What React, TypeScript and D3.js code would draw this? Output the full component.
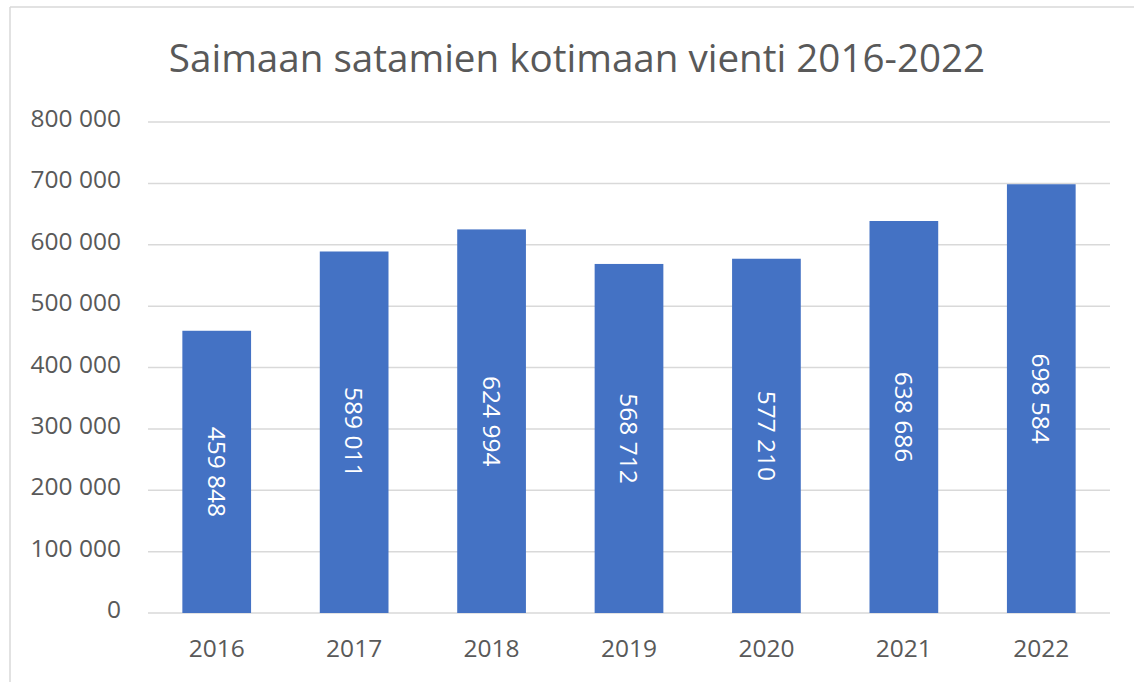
import React from "react";
import * as d3 from "d3";

const years = ["2016", "2017", "2018", "2019", "2020", "2021", "2022"];
const values = [459848, 589011, 624994, 568712, 577210, 638686, 698584];
const yTicks = [0, 100000, 200000, 300000, 400000, 500000, 600000, 700000, 800000];
const title = "Saimaan satamien kotimaan vienti 2016-2022";

const W = 1134, H = 682;
const left = 148, right = 1110, top = 122, bottom = 613;
const font = "'Open Sans', 'Liberation Sans', sans-serif";

const fmt = (v: number) => {
  const s = Math.round(v).toString();
  return s.replace(/\B(?=(\d{3})+(?!\d))/g, " ");
};

export default function App() {
  const x = d3.scaleBand<string>().domain(years).range([left, right]).paddingInner(0.5).paddingOuter(0.25);
  const y = d3.scaleLinear().domain([0, 800000]).range([bottom, top]);
  return (
    <svg width={W} height={H} style={{ position: "absolute", left: 0, top: 0, background: "#fff" }}>
      <rect x={0} y={0} width={W} height={H} fill="#fff" />
      <line x1={10} y1={7} x2={W} y2={7} stroke="#d9d9d9" strokeWidth={1.5} />
      <line x1={10} y1={7} x2={10} y2={H} stroke="#d9d9d9" strokeWidth={1.5} />
      <text x={577} y={72} textAnchor="middle" fontFamily={font} fontSize={38.6} fill="#595959">{title}</text>
      {yTicks.map((t) => (
        <g key={t}>
          <line x1={left} x2={right} y1={y(t)} y2={y(t)} stroke="#d9d9d9" strokeWidth={1.5} />
          <text x={121} y={y(t) + 5} textAnchor="end" fontFamily={font} fontSize={24.5} fill="#595959">{fmt(t)}</text>
        </g>
      ))}
      {years.map((yr, i) => {
        const bx = x(yr)!;
        const bw = x.bandwidth();
        const by = y(values[i]);
        const cx = bx + bw / 2;
        const cy = (by + y(0)) / 2;
        return (
          <g key={yr}>
            <rect x={bx} y={by} width={bw} height={y(0) - by} fill="#4472c4" />
            <text transform={`translate(${cx},${cy}) rotate(90)`} textAnchor="middle" dy="0.36em" fontFamily={font} fontSize={24.5} fill="#ffffff">{fmt(values[i])}</text>
            <text x={cx} y={657} textAnchor="middle" fontFamily={font} fontSize={24.5} fill="#595959">{yr}</text>
          </g>
        );
      })}
    </svg>
  );
}
